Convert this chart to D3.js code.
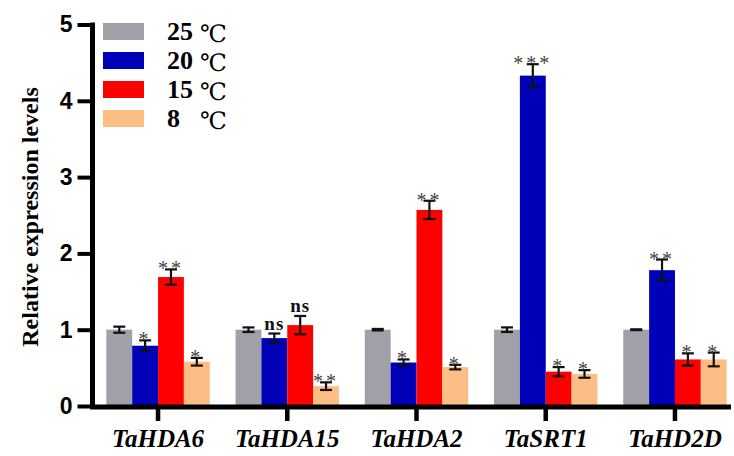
<!DOCTYPE html>
<html>
<head>
<meta charset="utf-8">
<script src="https://cdn.jsdelivr.net/npm/d3@7"></script>
<style>
body { margin: 0; background: #fff; }
</style>
</head>
<body>
<svg></svg>
<script>
var genes = ["TaHDA6", "TaHDA15", "TaHDA2", "TaSRT1", "TaHD2D"];
var temps = ["25", "20", "15", "8"];
var colors = ["#a0a0a8", "#0000b8", "#ff0000", "#fdbe86"];

// values per temperature, in gene order
var t25 = [1.00, 1.00, 1.00, 1.00, 1.00];
var t20 = [0.79, 0.89, 0.57, 4.33, 1.78];
var t15 = [1.69, 1.06, 2.57, 0.45, 0.61];
var t8 = [0.58, 0.26, 0.51, 0.42, 0.61];

var e25 = [0.04, 0.03, 0.01, 0.03, 0.005];
var e20 = [0.07, 0.06, 0.04, 0.15, 0.14];
var e15 = [0.10, 0.12, 0.12, 0.06, 0.08];
var e8 = [0.05, 0.05, 0.03, 0.05, 0.09];

var s20 = ["*", "ns", "*", "***", "**"];
var s15 = ["**", "ns", "**", "*", "*"];
var s8 = ["*", "**", "*", "*", "*"];

var yTicks = [0, 1, 2, 3, 4, 5];

var values = [t25, t20, t15, t8];
var errs = [e25, e20, e15, e8];
var sigs = [null, s20, s15, s8];

var width = 734, height = 456;
var svg = d3.select("svg").attr("width", width).attr("height", height);

var x = d3.scaleBand().domain(genes).range([80.5, 752.5]).padding(0.2);
var xs = d3.scaleBand().domain(temps).range([0, x.bandwidth()]);
var y = d3.scaleLinear().domain([0, 5]).range([406, 24.5]);

var data = [];
genes.forEach(function(g, gi) {
  temps.forEach(function(t, ti) {
    data.push({gene: g, temp: t, ti: ti, v: values[ti][gi], e: errs[ti][gi],
      s: sigs[ti] ? sigs[ti][gi] : ""});
  });
});

// bars
svg.selectAll(".bar").data(data).enter().append("rect")
  .attr("x", d => x(d.gene) + xs(d.temp))
  .attr("y", d => y(d.v))
  .attr("width", xs.bandwidth())
  .attr("height", d => y(0) - y(d.v))
  .attr("fill", d => colors[d.ti]);

// error bars
var eb = svg.selectAll(".err").data(data).enter().append("g")
  .attr("stroke", "#111").attr("stroke-width", 2.2);
eb.append("line")
  .attr("x1", d => x(d.gene) + xs(d.temp) + xs.bandwidth() / 2)
  .attr("x2", d => x(d.gene) + xs(d.temp) + xs.bandwidth() / 2)
  .attr("y1", d => y(d.v + d.e)).attr("y2", d => y(d.v - d.e));
[1, -1].forEach(function(k) {
  eb.append("line")
    .attr("x1", d => x(d.gene) + xs(d.temp) + xs.bandwidth() / 2 - 6)
    .attr("x2", d => x(d.gene) + xs(d.temp) + xs.bandwidth() / 2 + 6)
    .attr("y1", d => y(d.v + k * d.e)).attr("y2", d => y(d.v + k * d.e));
});

// significance marks
svg.selectAll(".sig").data(data.filter(d => d.s)).enter().append("text")
  .attr("x", d => x(d.gene) + xs(d.temp) + xs.bandwidth() / 2)
  .attr("y", d => d.s == "ns" ? y(d.v + d.e) - 4 : y(d.v + d.e) + 6)
  .attr("text-anchor", "middle")
  .style("font-family", "Liberation Serif, serif")
  .style("font-weight", d => d.s == "ns" ? "bold" : "normal")
  .style("font-size", d => d.s == "ns" ? "19px" : "20px")
  .style("letter-spacing", d => d.s == "ns" ? "1px" : "3px")
  .attr("fill", d => d.s == "ns" ? "#111" : "#444")
  .text(d => d.s);

// y axis
var yAxis = svg.append("g")
  .attr("transform", "translate(92.5,0)")
  .call(d3.axisLeft(y).tickValues(yTicks).tickFormat(d3.format("d")).tickSize(15).tickPadding(5));
yAxis.select(".domain").remove();
yAxis.selectAll(".tick line").attr("stroke", "#000").attr("stroke-width", 4);
yAxis.selectAll("text")
  .style("font-family", "Liberation Sans, Arial, sans-serif")
  .style("font-weight", "bold").style("font-size", "23px").attr("fill", "#000");
svg.append("line").attr("x1", 92.5).attr("x2", 92.5).attr("y1", y(5) - 2).attr("y2", y(0) + 3)
  .attr("stroke", "#000").attr("stroke-width", 5);

// x axis
var xAxis = svg.append("g")
  .attr("transform", "translate(0," + (y(0) + 1) + ")")
  .call(d3.axisBottom(x).tickSize(14).tickPadding(8));
xAxis.select(".domain").remove();
xAxis.selectAll(".tick line").attr("stroke", "#000").attr("stroke-width", 4.5);
xAxis.selectAll("text")
  .style("font-family", "Liberation Serif, Times New Roman, serif")
  .style("font-weight", "bold").style("font-style", "italic")
  .style("font-size", "25px").attr("fill", "#000");
svg.append("line").attr("x1", 90).attr("x2", 731).attr("y1", y(0) + 1).attr("y2", y(0) + 1)
  .attr("stroke", "#000").attr("stroke-width", 5);

// y label
svg.append("text")
  .attr("transform", "translate(38,217) rotate(-90)")
  .attr("text-anchor", "middle")
  .style("font-family", "Liberation Serif, Times New Roman, serif")
  .style("font-weight", "bold").style("font-size", "24px")
  .text("Relative expression levels");

// legend
var leg = svg.selectAll(".leg").data(temps).enter().append("g")
  .attr("transform", (d, i) => "translate(103," + (23 + i * 29) + ")");
leg.append("rect").attr("width", 41).attr("height", 17).attr("fill", (d, i) => colors[i]);
leg.append("text").attr("x", 64).attr("y", 17)
  .style("font-family", "Liberation Serif, Times New Roman, serif")
  .style("font-weight", "bold").style("font-size", "26px")
  .text(d => d);
leg.append("text").attr("x", 97).attr("y", 19)
  .style("font-family", "DejaVu Serif, serif")
  .style("font-size", "24px")
  .text("℃");
</script>
</body>
</html>
